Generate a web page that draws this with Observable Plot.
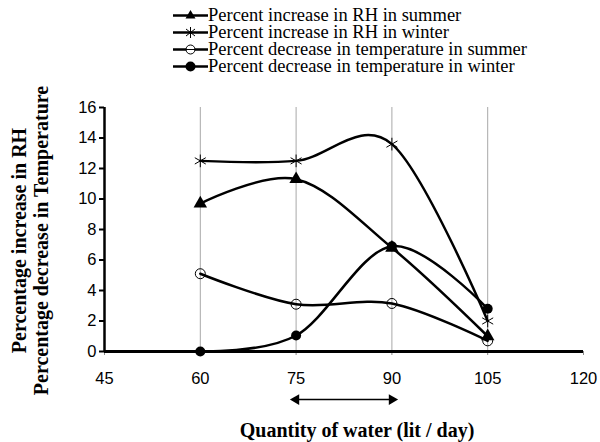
<!DOCTYPE html>
<html>
<head>
<meta charset="utf-8">
<script src="https://cdn.jsdelivr.net/npm/d3@7"></script>
<script src="https://cdn.jsdelivr.net/npm/@observablehq/plot@0.6"></script>
<style>
  body { margin: 0; background: #fff; }
  #wrap { position: relative; width: 600px; height: 442px; }
  #legend { position: absolute; left: 0; top: 0; padding-top: 7px; font-family: "Liberation Serif", "Times New Roman", serif; font-size: 18.5px; }
  .row { display: flex; align-items: center; height: 17px; margin-left: 173px; }
  .row svg { width: 35px; height: 17px; flex: none; }
  .row span { display: inline-block; height: 17px; line-height: 17px; white-space: nowrap; }
</style>
</head>
<body>
<div id="wrap">
<div id="chart"></div>
<div id="legend"></div>
</div>
<script>
// ---- data ----
const quantity = [60, 75, 90, 105];
const rhSummer = [9.7, 11.3, 6.8, 1.0];
const rhWinter = [12.5, 12.5, 13.6, 2.0];
const tempSummer = [5.1, 3.1, 3.15, 0.7];
const tempWinter = [0, 1.05, 6.9, 2.8];
const seriesNames = [
  "Percent increase in RH in summer",
  "Percent increase in RH in winter",
  "Percent decrease in temperature in summer",
  "Percent decrease in temperature in winter"
];
const xTicks = [45, 60, 75, 90, 105, 120];
const yTicks = [0, 2, 4, 6, 8, 10, 12, 14, 16];
const gridX = [60, 75, 90, 105];
const arrowRange = [75, 90];
const arrowLevel = -3.15;
const xLabel = "Quantity of water (lit / day)";
const yLabel1 = "Percentage increase in RH";
const yLabel2 = "Percentage decrease in Temperature";

const seriesValues = [rhSummer, rhWinter, tempSummer, tempWinter];

const rows = [];
seriesValues.forEach((vals, s) => {
  vals.forEach((v, i) => rows.push({series: seriesNames[s], s, x: quantity[i], y: v}));
});

// ---- legend ----
const legendSymbols = [
  '<polygon points="17.5,3 22.5,11.5 12.5,11.5" fill="black"/>',
  '<g stroke="black" stroke-width="1"><line x1="17.5" y1="3" x2="17.5" y2="14"/><line x1="13" y1="5" x2="22" y2="12"/><line x1="13" y1="12" x2="22" y2="5"/></g>',
  '<circle cx="17.5" cy="8.5" r="4.5" fill="white" stroke="black" stroke-width="1"/><line x1="13" y1="8.5" x2="22" y2="8.5" stroke="black" stroke-width="1"/>',
  '<circle cx="17.5" cy="8.5" r="5" fill="black"/>'
];
const legend = document.getElementById("legend");
seriesNames.forEach((name, i) => {
  const row = document.createElement("div");
  row.className = "row";
  row.innerHTML = `<svg viewBox="0 0 35 17"><line x1="0" y1="8.5" x2="35" y2="8.5" stroke="black" stroke-width="2.5"/>${legendSymbols[i]}</svg><span>${name}</span>`;
  legend.appendChild(row);
});

// ---- chart ----
const serif = "'Liberation Serif', 'Times New Roman', serif";
const chart = Plot.plot({
  width: 600,
  height: 442,
  marginTop: 107,
  marginBottom: 91,
  marginLeft: 104,
  marginRight: 17,
  style: {fontFamily: "'Liberation Sans', Arial, sans-serif", fontSize: "16.5px", background: "white"},
  x: {domain: [45, 120], ticks: xTicks},
  y: {domain: [0, 16], ticks: yTicks},
  marks: [
    Plot.ruleX(gridX, {y1: 0, y2: 16, stroke: "#a8a8a8", strokeWidth: 1}),
    Plot.axisX({ticks: xTicks, tickSize: 4, tickPadding: 17, fontSize: 16.5, stroke: "#888", label: null}),
    Plot.axisY({ticks: yTicks, tickSize: 5, tickPadding: 3, fontSize: 16.5, strokeWidth: 2, label: null}),
    Plot.ruleX([45], {y1: 0, y2: 16, stroke: "black", strokeWidth: 2.5}),
    Plot.ruleY([0], {stroke: "black", strokeWidth: 3}),
    Plot.line(rows, {x: "x", y: "y", z: "series", curve: "cardinal", stroke: "black", strokeWidth: 2.5}),
    Plot.dot(rows.filter(d => d.s === 0), {x: "x", y: "y", symbol: "triangle", fill: "black", r: 5}),
    Plot.dot(rows.filter(d => d.s === 1), {x: "x", y: "y", symbol: "asterisk", stroke: "black", strokeWidth: 1, r: 6}),
    Plot.dot(rows.filter(d => d.s === 2), {x: "x", y: "y", symbol: "circle", fill: "none", stroke: "black", strokeWidth: 1, r: 5}),
    Plot.dot(rows.filter(d => d.s === 3), {x: "x", y: "y", symbol: "circle", fill: "black", r: 5}),
    Plot.link([arrowRange], {x1: d => d[0], x2: d => d[1], y1: () => arrowLevel, y2: () => arrowLevel, stroke: "black", strokeWidth: 1.5}),
    Plot.dot(arrowRange, {x: d => d, y: () => arrowLevel, symbol: "triangle", rotate: (d, i) => i === 0 ? -90 : 90, fill: "black", r: 4}),
    Plot.text([xLabel], {frameAnchor: "bottom", dx: 13, dy: 79, lineAnchor: "middle", fontFamily: serif, fontWeight: "bold", fontSize: 20}),
    Plot.text([yLabel1], {frameAnchor: "left", dx: -84.5, dy: 11, rotate: -90, lineAnchor: "middle", textAnchor: "middle", fontFamily: serif, fontWeight: "bold", fontSize: 20}),
    Plot.text([yLabel2], {frameAnchor: "left", dx: -62.5, dy: 11, rotate: -90, lineAnchor: "middle", textAnchor: "middle", fontFamily: serif, fontWeight: "bold", fontSize: 20})
  ]
});
document.getElementById("chart").appendChild(chart);
</script>
</body>
</html>
